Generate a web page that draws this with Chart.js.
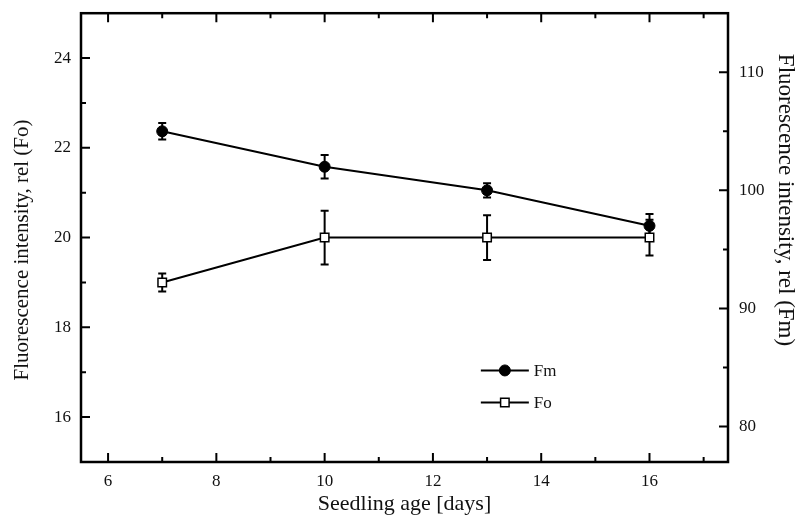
<!DOCTYPE html>
<html>
<head>
<meta charset="utf-8">
<script src="https://cdn.jsdelivr.net/npm/chart.js@4.4.0/dist/chart.umd.min.js"></script>
<style>
  html, body { margin: 0; padding: 0; background: #fff; }
  canvas { display: block; }
</style>
</head>
<body>
<canvas id="chart" width="796" height="527"></canvas>
<script>
// values
var days = [7, 10, 13, 16];
var fmValues = [105, 102, 100, 97];
var fmErrors = [0.7, 1.0, 0.6, 1.0];
var foValues = [19, 20, 20, 20];
var foErrors = [0.2, 0.6, 0.5, 0.4];
var seriesLabels = ['Fm', 'Fo'];
var xTitle = 'Seedling age [days]';
var yLeftTitle = 'Fluorescence intensity, rel (Fo)';
var yRightTitle = 'Fluorescence intensity, rel (Fm)';

var FONT = "'Liberation Serif', 'Times New Roman', serif";
var INK = '#000';
var TEXT = '#111';

function points(xs, ys) {
  return xs.map(function(x, i) { return {x: x, y: ys[i]}; });
}

// vertical error bars, drawn under the markers
var errorBars = {
  id: 'errorBars',
  beforeDatasetsDraw: function(chart) {
    var ctx = chart.ctx;
    var xs = chart.scales.x;
    ctx.save();
    ctx.strokeStyle = INK;
    ctx.lineWidth = 2;
    chart.data.datasets.forEach(function(ds) {
      var ys = chart.scales[ds.yAxisID];
      ds.data.forEach(function(p, i) {
        var px = xs.getPixelForValue(p.x);
        var top = ys.getPixelForValue(p.y + ds.errors[i]);
        var bot = ys.getPixelForValue(p.y - ds.errors[i]);
        ctx.beginPath();
        ctx.moveTo(px, top); ctx.lineTo(px, bot);
        ctx.moveTo(px - 4, top); ctx.lineTo(px + 4, top);
        ctx.moveTo(px - 4, bot); ctx.lineTo(px + 4, bot);
        ctx.stroke();
      });
    });
    ctx.restore();
  }
};

// box frame with inward major / minor ticks, axis titles, legend
var frame = {
  id: 'frame',
  afterDraw: function(chart) {
    var a = chart.chartArea, ctx = chart.ctx;
    var sx = chart.scales.x, sy = chart.scales.y, sy2 = chart.scales.y2;
    ctx.save();
    ctx.strokeStyle = INK;
    ctx.lineWidth = 2;
    ctx.beginPath();
    sx.ticks.forEach(function(t) {
      if (t.value % 1 !== 0) return;
      var len = t.value % 2 === 0 ? 9 : 5;
      var px = sx.getPixelForValue(t.value);
      ctx.moveTo(px, a.bottom); ctx.lineTo(px, a.bottom - len);
      ctx.moveTo(px, a.top); ctx.lineTo(px, a.top + len);
    });
    sy.ticks.forEach(function(t) {
      if (t.value % 1 !== 0 || t.value <= sy.min || t.value >= sy.max) return;
      var len = t.value % 2 === 0 ? 9 : 5;
      var py = sy.getPixelForValue(t.value);
      ctx.moveTo(a.left, py); ctx.lineTo(a.left + len, py);
    });
    sy2.ticks.forEach(function(t) {
      if (t.value % 5 !== 0 || t.value <= sy2.min || t.value >= sy2.max) return;
      var len = t.value % 10 === 0 ? 9 : 5;
      var py = sy2.getPixelForValue(t.value);
      ctx.moveTo(a.right, py); ctx.lineTo(a.right - len, py);
    });
    ctx.stroke();
    ctx.lineWidth = 2.5;
    ctx.strokeRect(a.left, a.top, a.right - a.left, a.bottom - a.top);

    // vertical axis titles
    ctx.fillStyle = TEXT;
    ctx.textAlign = 'center';
    ctx.textBaseline = 'middle';
    ctx.font = '21px ' + FONT;
    ctx.save();
    ctx.translate(22, 250);
    ctx.rotate(-Math.PI / 2);
    ctx.fillText(yLeftTitle, 0, 0);
    ctx.restore();
    ctx.font = '23px ' + FONT;
    ctx.save();
    ctx.translate(785, 200);
    ctx.rotate(Math.PI / 2);
    ctx.fillText(yRightTitle, 0, 0);
    ctx.restore();

    // legend inside the plot
    var lx = a.left + 0.618 * (a.right - a.left);
    var ly = a.top + 0.796 * (a.bottom - a.top);
    ctx.font = '17px ' + FONT;
    ctx.textAlign = 'left';
    chart.data.datasets.forEach(function(ds, i) {
      var y = ly + i * 32;
      ctx.strokeStyle = ds.borderColor;
      ctx.lineWidth = ds.borderWidth;
      ctx.beginPath();
      ctx.moveTo(lx, y); ctx.lineTo(lx + 48, y);
      ctx.stroke();
      ctx.fillStyle = ds.pointBackgroundColor;
      ctx.strokeStyle = ds.pointBorderColor;
      ctx.lineWidth = ds.pointBorderWidth;
      Chart.helpers.drawPoint(ctx, {pointStyle: ds.pointStyle, radius: ds.pointRadius, borderWidth: ds.pointBorderWidth, rotation: 0}, lx + 24, y);
      ctx.fillStyle = TEXT;
      ctx.fillText(ds.label, lx + 53, y + 1);
    });
    ctx.restore();
  }
};

var tickFont = {family: FONT, size: 17};

new Chart(document.getElementById('chart'), {
  type: 'line',
  data: {
    datasets: [
      {
        label: seriesLabels[0],
        data: points(days, fmValues),
        errors: fmErrors,
        yAxisID: 'y2',
        borderColor: INK,
        borderWidth: 2,
        tension: 0,
        fill: false,
        pointStyle: 'circle',
        pointRadius: 5.5,
        pointBackgroundColor: INK,
        pointBorderColor: INK,
        pointBorderWidth: 1
      },
      {
        label: seriesLabels[1],
        data: points(days, foValues),
        errors: foErrors,
        yAxisID: 'y',
        borderColor: INK,
        borderWidth: 2,
        tension: 0,
        fill: false,
        pointStyle: 'rect',
        pointRadius: 6,
        pointBackgroundColor: '#fff',
        pointBorderColor: INK,
        pointBorderWidth: 1.5
      }
    ]
  },
  options: {
    responsive: false,
    animation: false,
    devicePixelRatio: 1,
    events: [],
    layout: {padding: {top: 4, left: 0, right: 0, bottom: 0}},
    plugins: {legend: {display: false}, tooltip: {enabled: false}},
    scales: {
      x: {
        type: 'linear',
        position: 'bottom',
        min: 5.5,
        max: 17.45,
        grid: {display: false},
        border: {display: false},
        ticks: {
          stepSize: 1,
          includeBounds: false,
          autoSkip: false,
          maxRotation: 0,
          padding: 1,
          color: TEXT,
          font: tickFont,
          callback: function(v) { return v % 2 === 0 ? String(v) : ''; }
        },
        title: {display: true, text: xTitle, color: TEXT, font: {family: FONT, size: 22}, padding: {top: 0, bottom: 10}},
        afterFit: function(s) { s.height = 65; }
      },
      y: {
        type: 'linear',
        position: 'left',
        min: 15,
        max: 25,
        grid: {display: false},
        border: {display: false},
        ticks: {
          stepSize: 1,
          includeBounds: false,
          autoSkip: false,
          padding: 2,
          color: TEXT,
          font: tickFont,
          callback: function(v) { return v % 2 === 0 ? String(v) : ''; }
        },
        afterFit: function(s) { s.width = 81; }
      },
      y2: {
        type: 'linear',
        position: 'right',
        min: 77,
        max: 115,
        grid: {display: false},
        border: {display: false},
        ticks: {
          stepSize: 5,
          includeBounds: false,
          autoSkip: false,
          padding: 3,
          color: TEXT,
          font: tickFont,
          callback: function(v) { return v % 10 === 0 ? String(v) : ''; }
        },
        afterFit: function(s) { s.width = 68; }
      }
    }
  },
  plugins: [errorBars, frame]
});
</script>
</body>
</html>
